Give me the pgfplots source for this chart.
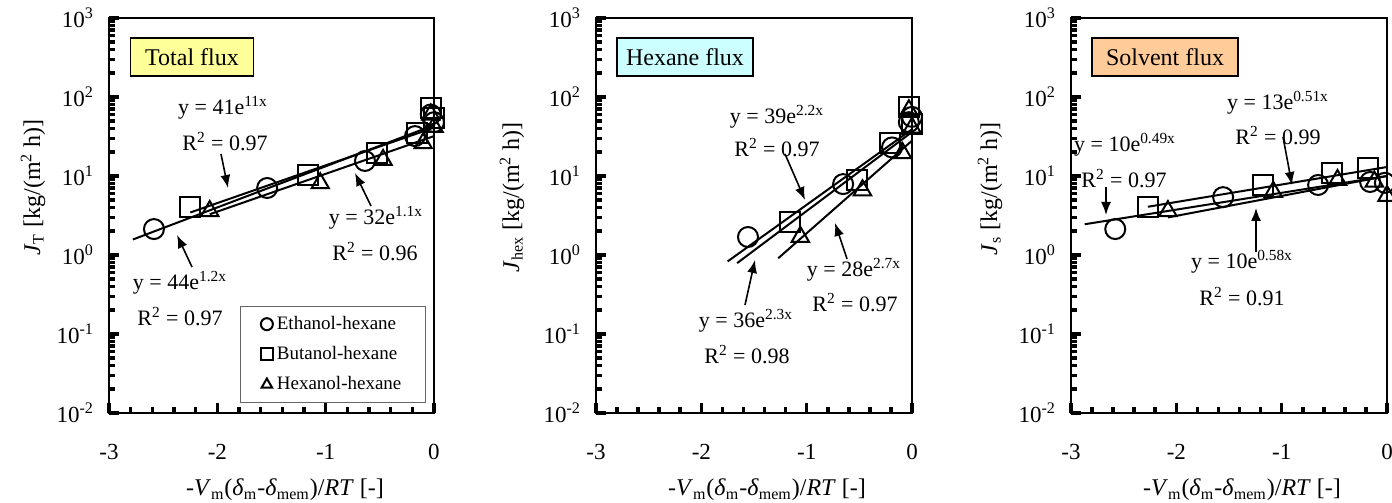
\documentclass[border=0pt]{standalone}
\usepackage{fontspec}
\setmainfont{Liberation Serif}
\usepackage{pgfplots}
\pgfplotsset{compat=1.18}
\usetikzlibrary{arrows.meta}

\definecolor{boxyellow}{HTML}{FFFF99}
\definecolor{boxcyan}{HTML}{CCFFFF}
\definecolor{boxorange}{HTML}{FFCC99}

\newcommand{\fslab}{\fontsize{12}{14}\selectfont}
\newcommand{\fsann}{\fontsize{11}{13}\selectfont}

\pgfplotsset{
  fluxaxis/.style={
    scale only axis, anchor=south west, height=197.5pt,
    xmin=-3, xmax=0, ymin=1e-2, ymax=1e3,
    axis line style={line width=1.2pt},
    xtick={-3,-2,-1,0}, xticklabels={-3,-2,-1,0},
    minor xtick={-2.8,-2.6,-2.4,-2.2,-1.8,-1.6,-1.4,-1.2,-0.8,-0.6,-0.4,-0.2},
    ytick={1e-2,1e-1,1,10,100,1000},
    yticklabels={10\textsuperscript{-2},10\textsuperscript{-1},10\textsuperscript{0},10\textsuperscript{1},10\textsuperscript{2},10\textsuperscript{3}},
    minor ytick={0.02,0.03,0.04,0.05,0.06,0.07,0.08,0.09,
                 0.2,0.3,0.4,0.5,0.6,0.7,0.8,0.9,
                 2,3,4,5,6,7,8,9,20,30,40,50,60,70,80,90,
                 200,300,400,500,600,700,800,900},
    tick pos=left, tick align=inside,
    major tick length=5pt, minor tick length=3pt,
    every tick/.append style={black, line width=1.8pt},
    ticklabel style={font=\fontsize{11.5}{13}\selectfont},
    yticklabel style={xshift=-4pt},
    xticklabel style={yshift=-12pt},
    clip=false,
  },
  ser/.style={only marks, mark size=5pt, mark options={line width=1pt, black, fill=none}},
  fit/.style={black, line width=1pt, no markers, forget plot},
}

\begin{document}
\begin{tikzpicture}
\useasboundingbox (0,0) rectangle (696pt,251.5pt);

% ---- total flux
\begin{axis}[ymode=log, fluxaxis, at={(54.5pt,45pt)}, width=162.5pt,
  legend image code/.code={\draw[#1] plot coordinates {(0pt,0pt)};},
  legend image post style={mark size=3pt, line width=1.2pt},
  legend style={at={(rel axis cs:0.975,0.025)}, anchor=south east,
    draw=black!60, line width=0.5pt, font=\fontsize{9.5}{11}\selectfont,
    inner xsep=10pt, inner ysep=3pt, row sep=3pt},
  legend cell align=left]
\addplot[fit] coordinates {(-2.78,1.57) (0,44)};
\addplot[fit] coordinates {(-2.25,3.45) (0,41)};
\addplot[fit] coordinates {(-2.07,3.28) (0,32)};
\addplot[ser, mark=o] coordinates {(-2.585,2.13) (-1.54,7.05) (-0.637,15.5) (-0.175,32) (-0.03,60) (0,48)};
\addlegendentry{Ethanol-hexane}
\addplot[ser, mark=square] coordinates {(-2.25,4.05) (-1.16,10.2) (-0.53,19.6) (-0.16,35) (-0.03,72) (0,55)};
\addlegendentry{Butanol-hexane}
\addplot[ser, mark=triangle] coordinates {(-2.07,3.6) (-1.05,8.1) (-0.47,16) (-0.10,26) (0,42) (-0.03,60)};
\addlegendentry{Hexanol-hexane}
\end{axis}

% ---- hexane flux
\begin{axis}[ymode=log, fluxaxis, at={(298pt,45pt)}, width=158pt]
\addplot[fit] coordinates {(-1.75,0.83) (0,39)};
\addplot[fit] coordinates {(-1.66,0.79) (0,36)};
\addplot[fit] coordinates {(-1.27,0.91) (0,28)};
\addplot[ser, mark=o] coordinates {(-1.557,1.69) (-0.654,7.9) (-0.19,23) (-0.03,48) (0,56)};
\addplot[ser, mark=square] coordinates {(-1.16,2.6) (-0.52,8.9) (-0.21,26) (-0.03,74) (0,45)};
\addplot[ser, mark=triangle] coordinates {(-1.06,1.7) (-0.47,6.6) (-0.09,19.5) (-0.03,68) (0,41)};
\end{axis}

% ---- solvent flux
\begin{axis}[ymode=log, fluxaxis, at={(535.5pt,45pt)}, width=158pt]
\addplot[fit] coordinates {(-2.87,2.45) (0,10)};
\addplot[fit] coordinates {(-2.27,4.08) (0,13)};
\addplot[fit] coordinates {(-2.08,2.99) (0,10)};
\addplot[ser, mark=o] coordinates {(-2.58,2.13) (-1.556,5.4) (-0.654,7.7) (-0.16,8.4) (-0.02,8.2)};
\addplot[ser, mark=square] coordinates {(-2.27,4.05) (-1.18,7.7) (-0.52,11) (-0.18,12.6)};
\addplot[ser, mark=triangle] coordinates {(-2.08,3.6) (-1.08,6.3) (-0.47,8.9) (-0.12,8.5) (0,5.6)};
\end{axis}

% ---- labels and notes, in pixel units of the reference
\begin{scope}[x=0.5pt, y=-0.5pt, shift={(0pt,251.5pt)}]
\tikzset{arr/.style={-{Latex[length=6.5pt,width=5pt]}, line width=0.8pt},
  tag/.style={draw=black, line width=0.6pt, font=\fslab, minimum height=19pt, inner sep=0pt}}

\node[rotate=90, anchor=east, font=\fslab] at (33,112) {\textit{J}\textsubscript{T} [kg/(m\textsuperscript{2} h)]};
\node[rotate=90, anchor=east, font=\fslab] at (512,115) {\textit{J}\textsubscript{hex} [kg/(m\textsuperscript{2} h)]};
\node[rotate=90, anchor=east, font=\fslab] at (990,115) {\textit{J}\textsubscript{s} [kg/(m\textsuperscript{2} h)]};
\foreach \cx in {285,767,1242}
  \node[font=\fslab] at (\cx,490) {-\textit{V}\textsubscript{m}(\textit{δ}\textsubscript{m}-\textit{δ}\textsubscript{mem})/\textit{RT} [-]};

\node[tag, fill=boxyellow, minimum width=61.5pt] at (192,57) {Total flux};
\node[tag, fill=boxcyan, minimum width=68pt] at (685,57) {Hexane flux};
\node[tag, fill=boxorange, minimum width=73pt] at (1165,57) {Solvent flux};

\begin{scope}[font=\fsann]
\node at (223,108) {y = 41e\textsuperscript{11x}};
\node at (225,142) {R\textsuperscript{2} = 0.97};
\draw[arr] (221,154) -- (228,188);
\node at (376,218) {y = 32e\textsuperscript{1.1x}};
\node at (375,252) {R\textsuperscript{2} = 0.96};
\draw[arr] (371,206) -- (355,173);
\node at (180,283) {y = 44e\textsuperscript{1.2x}};
\node at (180,317) {R\textsuperscript{2} = 0.97};
\draw[arr] (192,267) -- (177,235);

\node at (777,117) {y = 39e\textsuperscript{2.2x}};
\node at (777,148) {R\textsuperscript{2} = 0.97};
\draw[arr] (785,154) -- (805,200);
\node at (854,270) {y = 28e\textsuperscript{2.7x}};
\node at (855,303) {R\textsuperscript{2} = 0.97};
\draw[arr] (847,259) -- (835,223);
\node at (746,321) {y = 36e\textsuperscript{2.3x}};
\node at (747,355) {R\textsuperscript{2} = 0.98};
\draw[arr] (745,305) -- (755,260);

\node at (1125,145) {y = 10e\textsuperscript{0.49x}};
\node at (1124,179) {R\textsuperscript{2} = 0.97};
\draw[arr] (1106,187) -- (1106,215);
\node at (1278,103) {y = 13e\textsuperscript{0.51x}};
\node at (1278,136) {R\textsuperscript{2} = 0.99};
\draw[arr] (1283,137) -- (1292,185);
\node at (1242,262) {y = 10e\textsuperscript{0.58x}};
\node at (1242,297) {R\textsuperscript{2} = 0.91};
\draw[arr] (1256,252) -- (1256,208);
\end{scope}
\end{scope}
\end{tikzpicture}
\end{document}
